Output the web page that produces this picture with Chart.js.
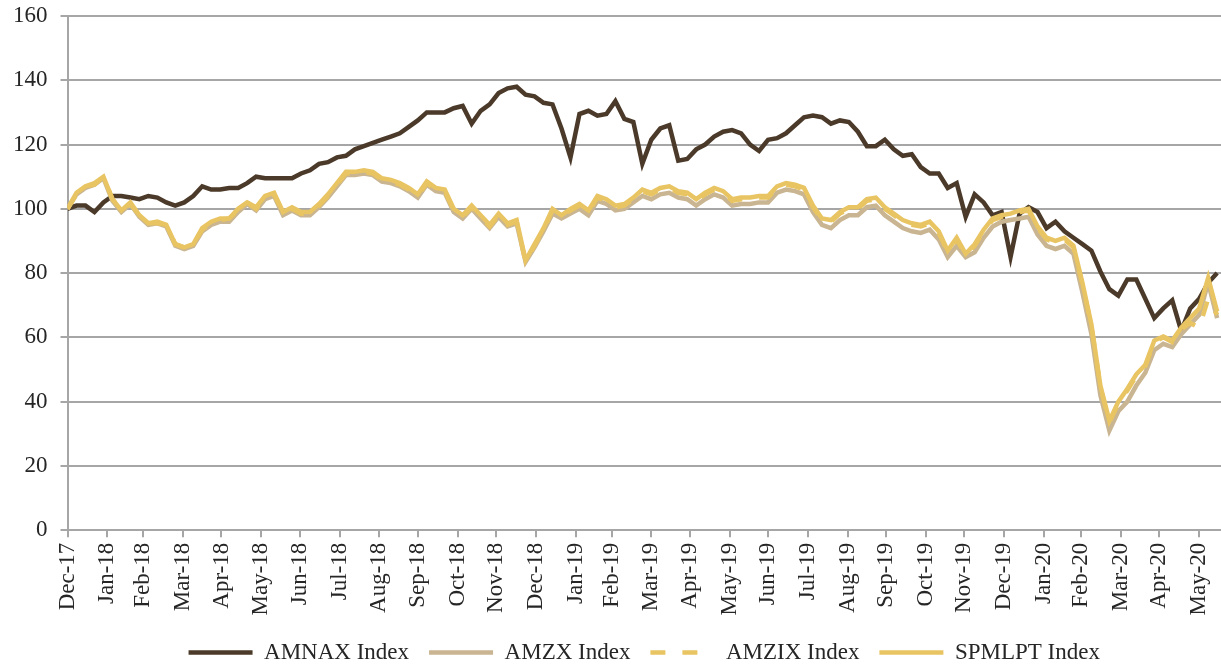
<!DOCTYPE html>
<html>
<head>
<meta charset="utf-8">
<script src="https://cdn.jsdelivr.net/npm/chart.js@4.4.1/dist/chart.umd.min.js"></script>
<style>
  html, body { margin: 0; padding: 0; background: #fff; }
  #wrap { width: 1221px; height: 667px; position: relative; }
</style>
</head>
<body>
<div id="wrap"><canvas id="chart"></canvas></div>
<script>
// weekly closes, rebased to 100 on 31-Dec-2017
const amnax = [
  100, 101, 101, 99, 102, 104, 104, 103.5, 103, 104, 103.5, 102, 101, 102, 104, 107, 106, 106, 106.5, 106.5, 108,
  110, 109.5, 109.5, 109.5, 109.5, 111, 112, 114, 114.5, 116, 116.5, 118.5, 119.5, 120.5, 121.5, 122.5, 123.5, 125.5, 127.5, 130, 130, 130,
  131.3, 132, 126.5, 130.5, 132.5, 136, 137.5, 138, 135.5, 135, 133, 132.5, 125, 116, 129.5, 130.5, 129, 129.5, 133.5, 128, 127,
  114, 121.5, 125, 126, 115, 115.5, 118.5, 120, 122.5, 124, 124.5, 123.5, 120, 118, 121.5, 122, 123.5, 126, 128.5, 129, 128.5,
  126.5, 127.5, 127, 124, 119.5, 119.5, 121.5, 118.5, 116.5, 117, 113, 111, 111, 106.5, 108, 97.5, 104.5, 102, 98, 99, 85, 98.5,
  100.5, 99, 94, 96, 93, 91, 89, 87, 80.5, 75, 73, 78, 78, 72, 66, 69, 71.5, 62, 69, 72, 77, 80
];
const amzx = [
  100, 104.5, 106.5, 107.5, 109.5, 102.5, 99, 101.5, 97.5, 95, 95.5, 94.5, 88.5, 87.5, 88.5, 93, 95, 96, 96, 99, 101.5,
  99.5, 103, 104, 98, 99.5, 98, 98, 100.5, 103.5, 107, 110.5, 110.5, 111, 110.5, 108.5, 108, 107, 105.5, 103.5, 107.5, 105.5, 105,
  99, 97, 100, 97, 94, 97.5, 94.5, 95.5, 83.5, 88, 93, 98.5, 97, 98.5, 100, 98, 102.5, 101.5, 99.5, 100, 102,
  104, 103, 104.5, 105, 103.5, 103, 101, 103, 104.5, 103.5, 101, 101.5, 101.5, 102, 102, 105, 106, 105.5, 104.5, 99, 95,
  94, 96.5, 98, 98, 100.5, 101, 98, 96, 94, 93, 92.5, 93.5, 90.5, 85, 88.5, 85, 86.5, 91, 94.5, 96, 96.5, 97,
  97.5, 92, 88.5, 87.5, 88.5, 86, 74, 61, 42, 31, 37, 40, 45, 49, 56, 58, 57, 61, 64, 67, 77, 66
];
const amzix = [
  100, 104.5, 107, 107.5, 110, 103, 99.5, 101.5, 98, 95.5, 95.5, 95, 89, 88, 89, 93.5, 95.5, 96.5, 97, 99.5, 102,
  100, 103.5, 104.5, 98.5, 100, 98.5, 98.5, 101, 104, 107.5, 111, 111, 111.5, 111, 109, 108.5, 107.5, 106, 104, 108, 106, 105.5,
  99.5, 97.5, 100.5, 97.5, 94.5, 98, 95, 96, 83.5, 88.5, 93.5, 99.5, 97.5, 99.5, 101, 99, 103.5, 102.5, 100.5, 101, 103,
  105.5, 104.5, 106, 106.5, 105, 104.5, 102.5, 104.5, 106, 105, 102.5, 103, 103, 103.5, 103.5, 106.5, 107.5, 107, 106, 100.5, 96.5,
  96, 98.5, 100, 100, 102.5, 103, 100, 98, 96, 95, 94.5, 95.5, 92.5, 86.5, 90.5, 85.5, 88.5, 93, 96.5, 97.5, 98, 99,
  99.5, 94, 90.5, 89.5, 90.5, 88, 76.5, 63.5, 44.5, 33.5, 39.5, 43.5, 48, 51, 58.5, 60, 58.5, 62.5, 64.5, 63, 72, 67
];
const spmlpt = [
  100, 105, 107, 108, 110, 103, 99.5, 102, 98, 95.5, 96, 95, 89, 88, 89, 94, 96, 97, 97, 100, 102,
  100.5, 104, 105, 99, 100.5, 99, 99, 101.5, 104.5, 108, 111.5, 111.5, 112, 111.5, 109.5, 109, 108, 106.5, 104.5, 108.5, 106.5, 106,
  100, 98, 101, 98, 95, 98.5, 95.5, 96.5, 84, 89, 94, 100, 98, 100, 101.5, 99.5, 104, 103, 101, 101.5, 103.5,
  106, 105, 106.5, 107, 105.5, 105, 103, 105, 106.5, 105.5, 103, 103.5, 103.5, 104, 104, 107, 108, 107.5, 106.5, 101, 97,
  96.5, 99, 100.5, 100.5, 103, 103.5, 100.5, 98.5, 96.5, 95.5, 95, 96, 93, 87, 91, 86, 89, 93.5, 97, 98, 98.5, 99.5,
  100, 94.5, 91, 90, 91, 88.5, 77, 64, 45, 34, 40, 44, 48.5, 51.5, 59, 60.3, 59, 63, 66, 69, 78.5, 68
];
const tickLabels = [
  'Dec-17', 'Jan-18', 'Feb-18', 'Mar-18', 'Apr-18', 'May-18', 'Jun-18', 'Jul-18', 'Aug-18', 'Sep-18',
  'Oct-18', 'Nov-18', 'Dec-18', 'Jan-19', 'Feb-19', 'Mar-19', 'Apr-19', 'May-19', 'Jun-19', 'Jul-19',
  'Aug-19', 'Sep-19', 'Oct-19', 'Nov-19', 'Dec-19', 'Jan-20', 'Feb-20', 'Mar-20', 'Apr-20', 'May-20'
];

const DAY = 86400000;
const start = Date.UTC(2017, 11, 31);
// month-end positions in days from the start
const tickDays = tickLabels.map((_, k) => Math.round((Date.UTC(2018, k, 0) - start) / DAY));
const toPoints = arr => arr.map((v, i) => ({ x: i * 7, y: v }));

const FONT = "'Liberation Serif', 'Times New Roman', serif";
const TEXT = '#262626';
const GRID = '#a6a6a6';
const SAMPLE = 64; // legend line sample length

// the point-style legend ignores borderDash, so redraw the dashed sample
const dashedLegend = {
  id: 'dashedLegend',
  afterDraw(chart) {
    const boxes = chart.legend && chart.legend.legendHitBoxes;
    if (!boxes) return;
    const ctx = chart.ctx;
    chart.legend.legendItems.forEach((item, n) => {
      const ds = chart.data.datasets[item.datasetIndex];
      if (!ds.borderDash || !ds.borderDash.length) return;
      const box = boxes[n];
      const y = box.top + box.height / 2;
      ctx.save();
      ctx.fillStyle = '#fff';
      ctx.fillRect(box.left - 1, y - 5, SAMPLE + 2, 10);
      ctx.strokeStyle = ds.borderColor;
      ctx.lineWidth = ds.borderWidth;
      ctx.setLineDash(ds.borderDash);
      ctx.beginPath();
      ctx.moveTo(box.left, y);
      ctx.lineTo(box.left + SAMPLE, y);
      ctx.stroke();
      ctx.restore();
    });
  }
};

function line(label, data, color, order, dash) {
  return {
    label: label,
    data: toPoints(data),
    borderColor: color,
    backgroundColor: color,
    borderWidth: 4.5,
    borderDash: dash || [],
    pointRadius: 0,
    tension: 0,
    order: order
  };
}

new Chart(document.getElementById('chart'), {
  type: 'line',
  data: {
    datasets: [
      line('AMNAX Index', amnax, '#4b3a29', 4),
      line('AMZX Index', amzx, '#c9b591', 3),
      line('AMZIX Index', amzix, '#e8c462', 2, [15, 17]),
      line('SPMLPT Index', spmlpt, '#e8c462', 1)
    ]
  },
  options: {
    responsive: true,
    maintainAspectRatio: false,
    animation: false,
    layout: { padding: { top: 16, left: 0, right: 0, bottom: -7 } },
    plugins: {
      tooltip: { enabled: false },
      legend: {
        position: 'bottom',
        fullSize: false,
        labels: {
          usePointStyle: true,
          pointStyle: 'line',
          pointStyleWidth: SAMPLE,
          padding: 20,
          color: TEXT,
          font: { family: FONT, size: 23 },
          sort: (a, b) => a.datasetIndex - b.datasetIndex
        }
      }
    },
    scales: {
      x: {
        type: 'linear',
        min: 0,
        max: 899,
        afterBuildTicks: scale => { scale.ticks = tickDays.map(v => ({ value: v })); },
        grid: { drawOnChartArea: false, drawTicks: true, tickLength: 7, color: GRID, lineWidth: 2 },
        border: { color: GRID, width: 2 },
        ticks: {
          autoSkip: false,
          minRotation: 90,
          maxRotation: 90,
          padding: 5.5,
          color: TEXT,
          font: { family: FONT, size: 23, lineHeight: 0.5 },
          callback: (value, index) => tickLabels[index]
        }
      },
      y: {
        min: 0,
        max: 160,
        grid: { color: GRID, lineWidth: 2, tickLength: 7 },
        border: { color: GRID, width: 2 },
        ticks: {
          stepSize: 20,
          padding: 13,
          color: TEXT,
          font: { family: FONT, size: 23, lineHeight: 0.25 }
        }
      }
    }
  },
  plugins: [dashedLegend]
});
</script>
</body>
</html>
